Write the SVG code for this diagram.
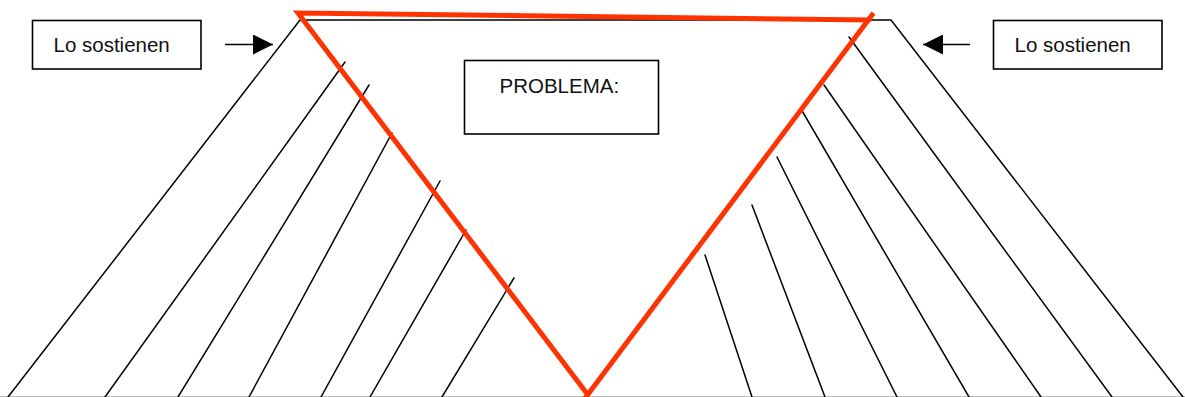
<svg xmlns="http://www.w3.org/2000/svg" width="1185" height="397" viewBox="0 0 1185 397">
<style>
.box{fill:#fff;stroke:#000;stroke-width:1.6}
.lbl{font-family:"Liberation Sans",Arial,sans-serif;font-size:20.5px;fill:#111}
.ln{stroke:#000;stroke-width:1.5;fill:none;stroke-linecap:round}
.red{stroke:#ff3300;stroke-width:5;fill:none;stroke-linecap:square}
.arr{stroke:#000;stroke-width:1.5;fill:none}
</style>
<defs>
<marker id="ah" viewBox="0 0 20 20" refX="20" refY="10" markerWidth="20" markerHeight="20" markerUnits="userSpaceOnUse" orient="auto">
<path d="M0,0 L20,10 L0,20 z" fill="#000"/>
</marker>
</defs>
<rect width="1185" height="397" fill="#fff"/>
<line x1="0" y1="396.5" x2="1185" y2="396.5" stroke="#bbb" stroke-width="1"/>
<g id="connectors">
<path class="ln" d="M8,397 L300,20 L891,20 L1183,397"/>
<line class="ln" x1="345" y1="62" x2="105" y2="397"/>
<line class="ln" x1="369" y1="85" x2="178" y2="397"/>
<line class="ln" x1="392" y1="133" x2="249" y2="397"/>
<line class="ln" x1="440" y1="181" x2="321" y2="397"/>
<line class="ln" x1="466" y1="230" x2="370" y2="397"/>
<line class="ln" x1="514" y1="278" x2="442" y2="397"/>
<line class="ln" x1="849" y1="37" x2="1112" y2="397"/>
<line class="ln" x1="824" y1="85" x2="1041" y2="397"/>
<line class="ln" x1="801" y1="109" x2="969" y2="397"/>
<line class="ln" x1="777" y1="157" x2="897" y2="397"/>
<line class="ln" x1="752" y1="205" x2="825" y2="397"/>
<line class="ln" x1="705" y1="255" x2="752" y2="397"/>
<line class="arr" x1="225" y1="44.5" x2="273" y2="44.5" marker-end="url(#ah)"/>
<line class="arr" x1="970" y1="44.5" x2="923" y2="44.5" marker-end="url(#ah)"/>
</g>
<g id="triangle">
<path class="red" d="M585,391 L298,13 L868,20"/>
<line class="red" x1="872" y1="15" x2="586" y2="397"/>
</g>
<g id="left-box">
<rect class="box" x="32.5" y="20.5" width="168.5" height="48.5"/>
<text class="lbl" x="53.5" y="52">Lo sostienen</text>
</g>
<g id="right-box">
<rect class="box" x="993.5" y="20.5" width="168.5" height="48.5"/>
<text class="lbl" x="1014.5" y="52">Lo sostienen</text>
</g>
<g id="problem">
<rect class="box" x="464.5" y="60.5" width="194" height="73.5"/>
<text class="lbl" x="499.5" y="93.3">PROBLEMA:</text>
</g>
</svg>
